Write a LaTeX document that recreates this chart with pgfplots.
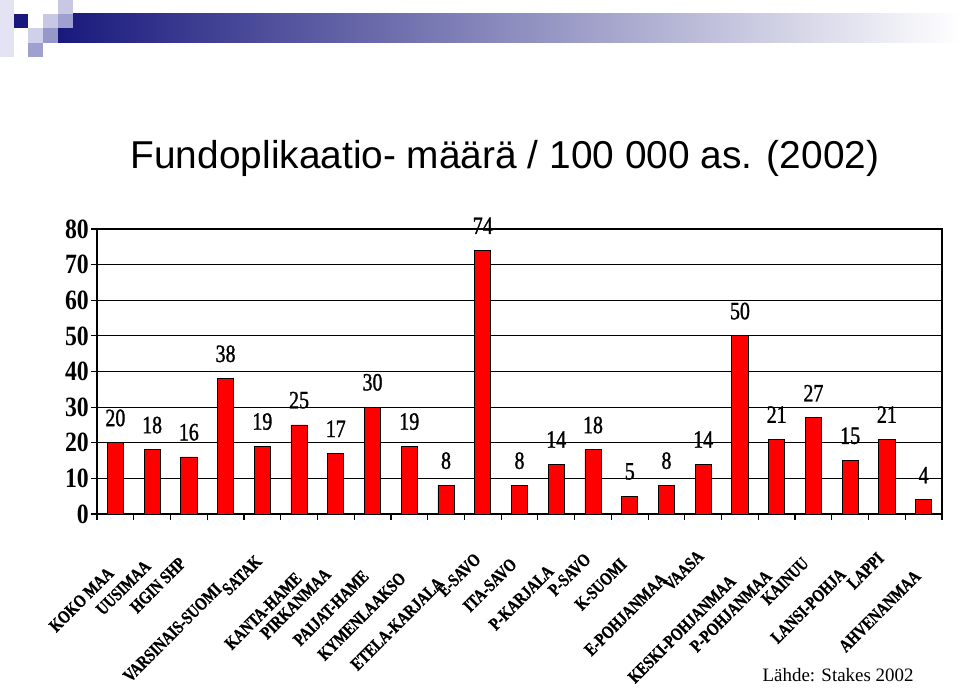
\documentclass[border=0pt]{standalone}
\usepackage{pgfplots}
\pgfplotsset{compat=1.18}
\usepackage{fontspec}
\setmainfont{Liberation Serif}
\newfontfamily\cond[FakeStretch=0.8]{Liberation Serif}
\newfontfamily\condv[FakeStretch=0.8, FakeBold=1.2]{Liberation Serif}
\newfontfamily\condy[FakeStretch=0.85]{Liberation Serif}
\newfontfamily\arial{Liberation Sans}
\definecolor{navy}{RGB}{25,25,125}
\definecolor{lav1}{RGB}{200,200,228}
\definecolor{lav2}{RGB}{160,160,208}
\definecolor{lav3}{RGB}{208,208,234}
\definecolor{lav4}{RGB}{152,152,200}

\begin{document}
\begin{tikzpicture}[x=1bp,y=1bp]
\path (0,0) rectangle (960,692);

% header band
\shade[left color=navy, right color=white] (58,649) rectangle (960,678);
\fill[lav3!60] (0,635) rectangle (14,692);
\fill[navy] (14,664) rectangle (28,678);
\fill[lav1] (58,678) rectangle (73,692);
\fill[lav1] (43,664) rectangle (58,678);
\fill[lav2] (58,664) rectangle (73,678);
\fill[lav3] (28,649) rectangle (43,664);
\fill[lav4] (43,649) rectangle (58,664);
\fill[lav2] (28,635) rectangle (43,649);

\node[anchor=base, font=\arial\fontsize{39}{39}\selectfont] at (505,523)
  {Fundoplikaatio- määrä / 100 000 as. (2002)};

\begin{axis}[
    at={(97bp,178bp)}, anchor=south west,
    scale only axis, width=845bp, height=285bp,
    xmin=-0.5, xmax=22.5,
    ymin=0, ymax=80,
    ytick={0,10,...,80},
    xtick={-0.5,0.5,...,22.5},
    xticklabels={},
    ymajorgrids=true,
    grid style={black, line width=1.2pt},
    axis line style={black, line width=1.3pt},
    tick style={black, line width=1.2pt},
    tick align=outside, tick pos=left,
    major tick length=6bp,
    /pgf/number format/assume math mode=true,
    yticklabel style={font=\condy\bfseries\fontsize{28}{28}\selectfont, inner sep=2pt},
    ybar, bar width=0.44,
    nodes near coords,
    every node near coord/.append style={font=\condv\fontsize{25}{25}\selectfont,
        anchor=south, inner sep=0pt, yshift=16bp},
    clip=false,
]
\addplot[fill=red, draw=black, line width=0.8pt] coordinates {
    (0,20) (1,18) (2,16) (3,38) (4,19) (5,25) (6,17) (7,30)
    (8,19) (9,8) (10,74) (11,8) (12,14) (13,18) (14,5) (15,8)
    (16,14) (17,50) (18,21) (19,27) (20,15) (21,21) (22,4)
};
\end{axis}

% category labels
\begin{scope}[every node/.style={rotate=45, anchor=east, inner sep=0.5pt,
    font=\condv\bfseries\fontsize{18}{18}\selectfont}]
\node at (111,122) {KOKO MAA};
\node at (148,129) {UUSIMAA};
\node at (183,132) {HGIN SHP};
\node at (219,106) {VARSINAIS-SUOMI};
\node at (259,134) {SATAK};
\node at (299,117) {KANTA-HAME};
\node at (328,121) {PIRKANMAA};
\node at (366,119) {PAIJAT-HAME};
\node at (403,117) {KYMENLAAKSO};
\node at (441,112) {ETELA-KARJALA};
\node at (478,136) {E-SAVO};
\node at (514,131) {ITA-SAVO};
\node at (551,124) {P-KARJALA};
\node at (588,136) {P-SAVO};
\node at (624,131) {K-SUOMI};
\node at (664,116) {E-POHJANMAA};
\node at (701,139) {VAASA};
\node at (733,114) {KESKI-POHJANMAA};
\node at (769,119) {P-POHJANMAA};
\node at (806,132) {KAINUU};
\node at (843,121) {LANSI-POHJA};
\node at (881,137) {LAPPI};
\node at (918,119) {AHVENANMAA};
\end{scope}

\node[anchor=base east, font=\fontsize{19}{19}\selectfont] at (917,10)
  {Lähde: Stakes 2002};
\end{tikzpicture}
\end{document}
